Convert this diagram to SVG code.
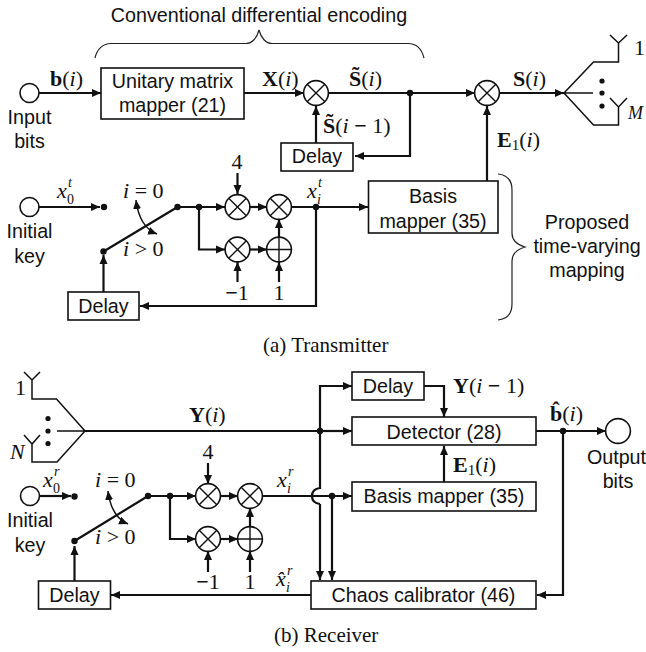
<svg xmlns="http://www.w3.org/2000/svg" width="646" height="652" viewBox="0 0 646 652">
<style>
.s{font-family:"Liberation Sans",Arial,sans-serif;font-size:19.700px;fill:#111;text-anchor:middle}
.m{font-family:"Liberation Serif","Times New Roman",serif;font-size:22px;fill:#111}
.mc{text-anchor:middle}
.c{font-family:"Liberation Serif","Times New Roman",serif;font-size:21px;fill:#111}
.b{font-weight:bold}
.i{font-style:italic}
.sm{font-family:"Liberation Serif","Times New Roman",serif;font-size:14px;fill:#111}
.box{fill:#fff;stroke:#111;stroke-width:1.600}
.circ{fill:#fff;stroke:#111;stroke-width:1.600}
.gl{fill:none;stroke:#111;stroke-width:1.400}
.w{fill:none;stroke:#111;stroke-width:2.200;stroke-linejoin:miter}
.a{marker-end:url(#ah)}
.th{fill:none;stroke:#111;stroke-width:1.500}
.br{fill:none;stroke:#222;stroke-width:1.200}
.d{fill:#111}
</style>
<defs>
<marker id="ah" markerUnits="userSpaceOnUse" markerWidth="10" markerHeight="10" refX="9" refY="5" orient="auto"><path d="M0 1 L9 5 L0 9 Z" fill="#111"/></marker>
<marker id="as" markerUnits="userSpaceOnUse" markerWidth="10" markerHeight="10" refX="9" refY="5" orient="auto-start-reverse"><path d="M0 1 L9 5 L0 9 Z" fill="#111"/></marker>
<g id="mul"><circle r="12.400" class="circ"/><path d="M-8.800 -8.800L8.800 8.800M-8.800 8.800L8.800 -8.800" class="gl"/></g>
<g id="add"><circle r="12.400" class="circ"/><path d="M-12.400 0H12.400M0 -12.400V12.400" class="gl"/></g>
</defs>

<g id="connectors">
<path class="w a" d="M38 93H101"/>
<path class="w a" d="M244 93H304"/>
<path class="w a" d="M328 93H475"/>
<path class="w a" d="M499 93H564"/>
<path class="w a" d="M410 93V156H355"/>
<path class="w a" d="M316 143V106"/>
<path class="w a" d="M487 181V106"/>
<path class="w a" d="M38 207H100"/>
<path class="w" d="M103.500 251.500L177.500 207"/>
<path class="w a" d="M178 207H225"/>
<path class="w a" d="M199 207V249.500H225"/>
<path class="w a" d="M250 207H267"/>
<path class="w a" d="M250 249.500H267"/>
<path class="w a" d="M279 237V219"/>
<path class="w a" d="M237.500 173V194"/>
<path class="w a" d="M237.500 282V262"/>
<path class="w a" d="M279 282V262"/>
<path class="w a" d="M291 207H368"/>
<path class="w a" d="M316 207V306H140"/>
<path class="w a" d="M103.500 292V255"/>
<path class="th" d="M136 200C138 216 144 229 157 234" marker-start="url(#as)" marker-end="url(#as)"/>

<path class="w" d="M85 431H320"/>
<path class="w a" d="M320 431H352"/>
<path class="w a" d="M320 431V386H352"/>
<path class="w a" d="M424 386H444V417"/>
<path class="w a" d="M536 431H606"/>
<path class="w a" d="M563 431V595H537"/>
<path class="w a" d="M444 482V446"/>
<path class="w a" d="M39 496H71"/>
<path class="w" d="M74.500 541L148 496"/>
<path class="w a" d="M148 496H196"/>
<path class="w a" d="M170 496V539H196"/>
<path class="w a" d="M220 496H238"/>
<path class="w a" d="M220 539H238"/>
<path class="w a" d="M250 527V508"/>
<path class="w a" d="M208 463V484"/>
<path class="w a" d="M208 572V551"/>
<path class="w a" d="M250 572V551"/>
<path class="w a" d="M262 496H352"/>
<path class="w" d="M320 431V488Q312 489 312 496Q312 503 320 504"/>
<path class="w a" d="M320 504V580"/>
<path class="w a" d="M332 496V580"/>
<path class="w a" d="M311 595H111"/>
<path class="w a" d="M74.500 581V546"/>
<path class="th" d="M108 491C110 507 116 519 128 524" marker-start="url(#as)" marker-end="url(#as)"/>
</g>

<g id="tx-brace-top"><path class="br" d="M95 58C97 49 103 43.500 111 43.500H246C252 43.500 257 38 259 30C261 38 266 43.500 272 43.500H408C417 43.500 422 50 424 58"/></g>
<g id="tx-brace-right"><path class="br" d="M498 174C507 175 512 180 512 190V233C512 241 518 245 525 247C518 249 512 253 512 261V304C512 314 507 319 498 320"/></g>

<g id="input-bits"><circle cx="29.500" cy="93" r="9.500" class="circ"/><text class="s" x="29.500" y="124">Input</text><text class="s" x="29.500" y="148">bits</text></g>
<g id="unitary-mapper"><rect class="box" x="101" y="68" width="143" height="51"/><text class="s" x="172.500" y="88">Unitary matrix</text><text class="s" x="172.500" y="112">mapper (21)</text></g>
<g id="tx-mul-1"><use href="#mul" x="316" y="93"/></g>
<g id="tx-mul-2"><use href="#mul" x="487" y="93"/></g>
<g id="tx-delay-1"><rect class="box" x="281" y="143" width="72" height="28"/><text class="s" x="317" y="163">Delay</text></g>
<g id="tx-tap"><circle class="d" cx="410" cy="93" r="3.200"/></g>
<g id="tx-antennas">
<path class="th" d="M564 93L593.500 62H618.500V43M610 35L618.500 43L627 35M564 93L593.500 125H618.500V107M610 98L618.500 107L627 98M564 93H593"/>
<circle class="d" cx="602" cy="81" r="2.600"/><circle class="d" cx="602" cy="93" r="2.600"/><circle class="d" cx="602" cy="106" r="2.600"/>
<text class="m" x="634" y="55">1</text><text class="m i" font-size="18" style="font-size:18px" x="628" y="119">M</text>
</g>
<g id="tx-key"><circle cx="29.500" cy="207" r="9.500" class="circ"/><text class="s" x="29.500" y="238">Initial</text><text class="s" x="29.500" y="263">key</text></g>
<g id="tx-switch"><circle class="d" cx="104" cy="207" r="3.200"/><circle class="d" cx="103.500" cy="251.500" r="3.200"/><circle class="d" cx="177.500" cy="207" r="3.200"/><circle class="d" cx="199" cy="207" r="3.200"/><circle class="d" cx="316" cy="207" r="3.200"/></g>
<g id="tx-mul-3"><use href="#mul" x="237.500" y="207"/></g>
<g id="tx-mul-4"><use href="#mul" x="279" y="207"/></g>
<g id="tx-mul-5"><use href="#mul" x="237.500" y="249.500"/></g>
<g id="tx-add"><use href="#add" x="279" y="249.500"/></g>
<g id="tx-basis"><rect class="box" x="368.500" y="181" width="129.500" height="52"/><text class="s" x="433" y="203">Basis</text><text class="s" x="433" y="228">mapper (35)</text></g>
<g id="tx-delay-2"><rect class="box" x="68" y="292" width="71" height="28"/><text class="s" x="103.500" y="313">Delay</text></g>

<g id="rx-antennas">
<path class="th" d="M85 431L56.500 399H32V380M24 372L32 380L40 372M85 431L57 462H32V444M24 435L32 444L40 435M85 431H57"/>
<circle class="d" cx="48" cy="418.500" r="2.600"/><circle class="d" cx="48" cy="431" r="2.600"/><circle class="d" cx="48" cy="443.500" r="2.600"/>
<text class="m" x="15" y="395">1</text><text class="m i" x="10" y="459">N</text>
</g>
<g id="rx-delay-1"><rect class="box" x="352" y="372" width="72" height="28"/><text class="s" x="388" y="393">Delay</text></g>
<g id="rx-detector"><rect class="box" x="352" y="417" width="184" height="28"/><text class="s" x="444" y="439">Detector (28)</text></g>
<g id="rx-basis"><rect class="box" x="352" y="482" width="184" height="29"/><text class="s" x="444" y="503">Basis mapper (35)</text></g>
<g id="rx-output"><circle cx="618" cy="431" r="12.400" class="circ"/><text class="s" x="616.500" y="464">Output</text><text class="s" x="618" y="488">bits</text></g>
<g id="rx-key"><circle cx="30" cy="496" r="9.500" class="circ"/><text class="s" x="30" y="527">Initial</text><text class="s" x="30" y="552">key</text></g>
<g id="rx-switch"><circle class="d" cx="74.500" cy="496.500" r="3.200"/><circle class="d" cx="74.500" cy="541" r="3.200"/><circle class="d" cx="148" cy="496" r="3.200"/><circle class="d" cx="170" cy="496" r="3.200"/><circle class="d" cx="320" cy="431" r="3.200"/><circle class="d" cx="332" cy="496" r="3.200"/><circle class="d" cx="563" cy="431" r="3.200"/></g>
<g id="rx-mul-1"><use href="#mul" x="208" y="496"/></g>
<g id="rx-mul-2"><use href="#mul" x="250" y="496"/></g>
<g id="rx-mul-3"><use href="#mul" x="208" y="539"/></g>
<g id="rx-add"><use href="#add" x="250" y="539"/></g>
<g id="rx-delay-2"><rect class="box" x="38.500" y="581" width="72" height="28"/><text class="s" x="74.500" y="602">Delay</text></g>
<g id="rx-chaos"><rect class="box" x="311" y="581" width="225" height="28"/><text class="s" x="423.500" y="602">Chaos calibrator (46)</text></g>

<g id="labels">
<text class="s" x="259" y="22">Conventional differential encoding</text>
<text class="s" x="587" y="229">Proposed</text><text class="s" x="587" y="253">time-varying</text><text class="s" x="587" y="277">mapping</text>
<text class="m" x="50" y="86"><tspan class="b">b</tspan>(<tspan class="i">i</tspan>)</text>
<text class="m" x="262" y="86"><tspan class="b">X</tspan>(<tspan class="i">i</tspan>)</text>
<text class="m" x="349" y="86"><tspan class="b">S̃</tspan>(<tspan class="i">i</tspan>)</text>
<text class="m" x="513" y="86"><tspan class="b">S</tspan>(<tspan class="i">i</tspan>)</text>
<text class="m" x="323" y="133"><tspan class="b">S̃</tspan>(<tspan class="i">i</tspan> <tspan class="b">−</tspan> 1)</text>
<text class="m" x="497" y="147"><tspan class="b">E</tspan><tspan font-size="15" dy="3">1</tspan><tspan dy="-3">(</tspan><tspan class="i">i</tspan>)</text>
<text class="m i" x="57" y="198">x</text><text class="sm" x="67" y="204">0</text><text class="sm i" x="68" y="187">t</text>
<text class="m i" x="307" y="198">x</text><text class="sm i" x="317" y="204">i</text><text class="sm i" x="318" y="187">t</text>
<text class="m" x="123" y="198"><tspan class="i">i</tspan> = 0</text>
<text class="m" x="123" y="256"><tspan class="i">i</tspan> &gt; 0</text>
<text class="m mc" x="237" y="169">4</text>
<text class="m mc" x="237" y="300"><tspan class="b">−</tspan>1</text>
<text class="m mc" x="279" y="300">1</text>
<text class="c" x="263" y="352">(a)  Transmitter</text>

<text class="m" x="189" y="422"><tspan class="b">Y</tspan>(<tspan class="i">i</tspan>)</text>
<text class="m" x="453" y="393"><tspan class="b">Y</tspan>(<tspan class="i">i</tspan> <tspan class="b">−</tspan> 1)</text>
<text class="m" x="550" y="421"><tspan class="b">b̂</tspan>(<tspan class="i">i</tspan>)</text>
<text class="m" x="453" y="472"><tspan class="b">E</tspan><tspan font-size="15" dy="3">1</tspan><tspan dy="-3">(</tspan><tspan class="i">i</tspan>)</text>
<text class="m i" x="43" y="487">x</text><text class="sm" x="53" y="493">0</text><text class="sm i" x="54" y="476">r</text>
<text class="m i" x="277" y="487">x</text><text class="sm i" x="287" y="493">i</text><text class="sm i" x="288" y="476">r</text>
<text class="m i" x="276" y="586">x̂</text><text class="sm i" x="286" y="592">i</text><text class="sm i" x="287" y="575">r</text>
<text class="m" x="95" y="487"><tspan class="i">i</tspan> = 0</text>
<text class="m" x="95" y="544"><tspan class="i">i</tspan> &gt; 0</text>
<text class="m mc" x="208" y="459">4</text>
<text class="m mc" x="208" y="589"><tspan class="b">−</tspan>1</text>
<text class="m mc" x="250" y="589">1</text>
<text class="c" x="274" y="642">(b)  Receiver</text>
</g>
</svg>
